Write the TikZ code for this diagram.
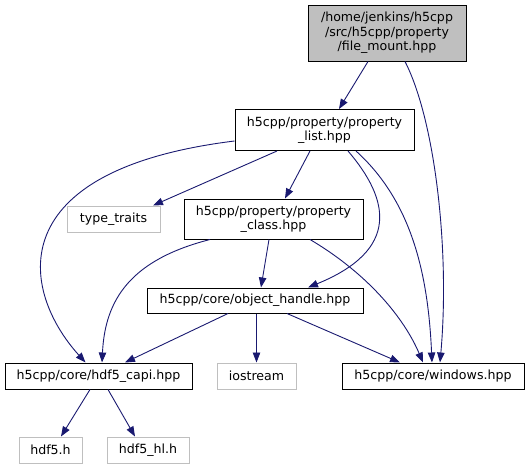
\documentclass[tikz,border=0pt]{standalone}
\usepackage{fontspec}
\setmainfont{DejaVu Sans}
\usepackage{tikz}
\usetikzlibrary{arrows.meta}

\definecolor{edgeblue}{HTML}{191970}
\definecolor{extgray}{HTML}{BFBFBF}

\begin{document}
\begin{tikzpicture}[x=1pt,y=-1pt,
  file/.style={draw=black,line width=1pt,inner sep=0pt,align=center,
    font=\fontsize{12.6}{14.6}\selectfont},
  extfile/.style={file,draw=extgray},
  dep/.style={edgeblue,line width=0.9pt,-{Triangle[length=10pt,width=7.5pt]}}]
\useasboundingbox (0,0) rectangle (531,469);

% Files
\node[file,fill=extgray,minimum width=158pt,minimum height=56pt] (mount) at (387,33)
  {/home/jenkins/h5cpp\\/src/h5cpp/property\\/file\_mount.hpp};
\node[file,minimum width=179pt,minimum height=41pt] (plist) at (324.5,130)
  {h5cpp/property/property\\\_list.hpp};
\node[extfile,minimum width=93pt,minimum height=26pt] (traits) at (113.5,219) {type\_traits};
\node[file,minimum width=179pt,minimum height=40pt] (pclass) at (273.5,219)
  {h5cpp/property/property\\\_class.hpp};
\node[file,minimum width=216pt,minimum height=25pt] (ohandle) at (255,300.5)
  {h5cpp/core/object\_handle.hpp};
\node[file,minimum width=187pt,minimum height=26pt] (capi) at (98.5,376)
  {h5cpp/core/hdf5\_capi.hpp};
\node[extfile,minimum width=79pt,minimum height=26pt] (iostream) at (256.5,376) {iostream};
\node[file,minimum width=182pt,minimum height=26pt] (windows) at (433,376)
  {h5cpp/core/windows.hpp};
\node[extfile,minimum width=63pt,minimum height=26pt] (hdf5) at (50.5,450) {hdf5.h};
\node[extfile,minimum width=82pt,minimum height=26pt] (hdf5hl) at (148,450) {hdf5\_hl.h};

% Includes
\draw[dep] ([xshift=-19pt]mount.south) -- ([xshift=14.5pt]plist.north);
\draw[dep] ([xshift=18pt]mount.south)
  .. controls (435,120) and (450,250) .. ([xshift=7pt]windows.north);

\draw[dep] ([xshift=-47.5pt]plist.south) -- ([xshift=39.5pt]traits.north);
\draw[dep] ([xshift=-14.5pt]plist.south) -- ([xshift=11.5pt]pclass.north);
\draw[dep] ([yshift=-11pt]plist.west)
  .. controls (0,170) and (20,290) .. ([xshift=-13pt]capi.north);
\draw[dep] ([xshift=23.5pt]plist.south)
  .. controls (390,200) and (400,250) .. ([xshift=53pt]ohandle.north);
\draw[dep] ([xshift=31.5pt]plist.south)
  .. controls (410,200) and (428,270) .. ([xshift=-1pt]windows.north);

\draw[dep] ([xshift=-4.5pt]pclass.south) -- ([xshift=6pt]ohandle.north);
\draw[dep] ([xshift=-63.5pt]pclass.south)
  .. controls (130,260) and (105,300) .. ([xshift=3.5pt]capi.north);
\draw[dep] ([xshift=36.5pt]pclass.south)
  .. controls (370,275) and (405,320) .. ([xshift=-10pt]windows.north);

\draw[dep] ([xshift=-27pt]ohandle.south) -- ([xshift=26.5pt]capi.north);
\draw[dep] ([xshift=1.5pt]ohandle.south) -- (iostream.north);
\draw[dep] ([xshift=32pt]ohandle.south) -- ([xshift=-33pt]windows.north);

\draw[dep] ([xshift=-8.5pt]capi.south) -- ([xshift=10.5pt]hdf5.north);
\draw[dep] ([xshift=9.5pt]capi.south) -- ([xshift=-13pt]hdf5hl.north);
\end{tikzpicture}
\end{document}
